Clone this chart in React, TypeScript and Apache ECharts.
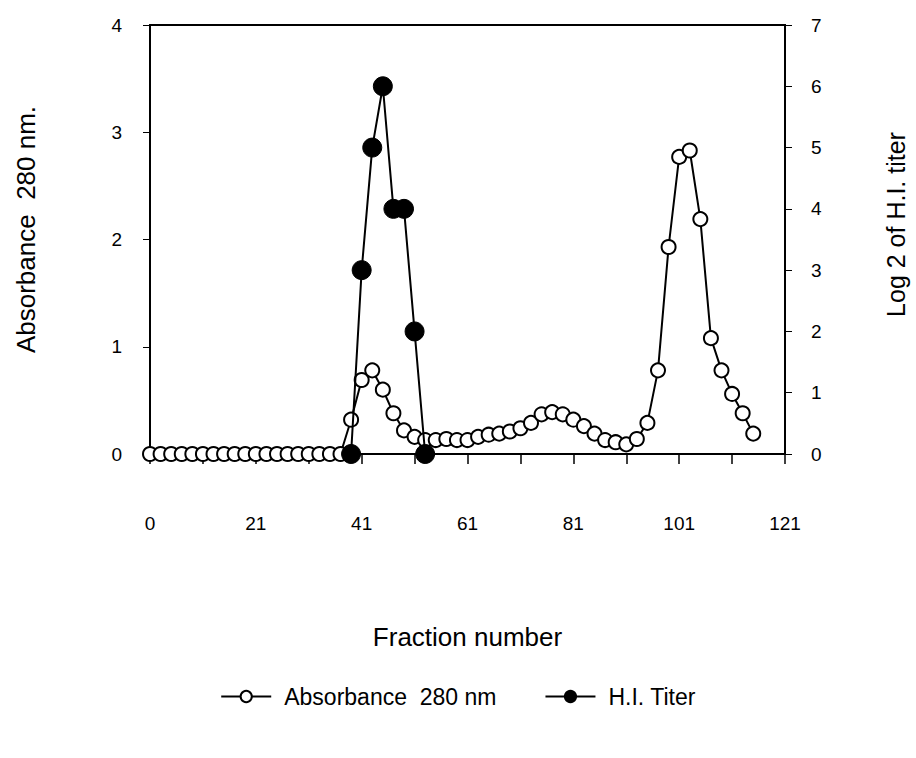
import React, { useEffect, useRef } from "react";
import * as echarts from "echarts";

const absFractions = [
  0, 2, 4, 6, 8, 10, 12, 14, 16, 18, 20, 22, 24, 26, 28, 30, 32, 34, 36,
  38, 40, 42, 44, 46, 48, 50, 52, 54, 56, 58, 60, 62, 64, 66, 68, 70, 72, 74, 76,
  78, 80, 82, 84, 86, 88, 90, 92, 94, 96, 98, 100, 102, 104, 106, 108, 110, 112, 114,
];
const absorbance = [
  0, 0, 0, 0, 0, 0, 0, 0, 0, 0, 0, 0, 0, 0, 0, 0, 0, 0, 0,
  0.32, 0.69, 0.78, 0.6, 0.38, 0.22, 0.16, 0.13, 0.13, 0.14, 0.13, 0.13, 0.16, 0.18, 0.19, 0.21, 0.24, 0.29, 0.37, 0.39,
  0.37, 0.32, 0.26, 0.19, 0.13, 0.11, 0.09, 0.14, 0.29, 0.78, 1.93, 2.77, 2.83, 2.19, 1.08, 0.78, 0.56, 0.38, 0.19,
];
const hiFractions = [38, 40, 42, 44, 46, 48, 50, 52];
const hiTiter = [0, 3, 5, 6, 4, 4, 2, 0];
const xTickLabels = ["0", "21", "41", "61", "81", "101", "121"];

const FONT = "'Liberation Sans', Arial, sans-serif";

export default function App() {
  const ref = useRef<HTMLDivElement>(null);
  useEffect(() => {
    if (!ref.current) return;
    const chart = echarts.init(ref.current, null, { renderer: "svg" });
    const absData = absFractions.map((x, i) => [x, absorbance[i]]);
    const hiData = hiFractions.map((x, i) => [x, hiTiter[i]]);
    chart.setOption({
      animation: false,
      backgroundColor: "#fff",
      textStyle: { fontFamily: FONT, color: "#000" },
      grid: {
        left: 150,
        right: 131,
        top: 25,
        bottom: 304,
        containLabel: false,
        outerBoundsMode: "none",
        show: true,
        borderColor: "#000",
        borderWidth: 2,
        backgroundColor: "transparent",
      },
      legend: {
        top: 680,
        left: "center",
        itemWidth: 50,
        itemHeight: 14,
        itemGap: 48,
        textStyle: { fontSize: 23, color: "#000", fontFamily: FONT, padding: [0, 0, 0, 8] },
        data: ["Absorbance  280 nm", "H.I. Titer"],
      },
      xAxis: {
        type: "value",
        min: 0,
        max: 120,
        interval: 10,
        name: "Fraction number",
        nameLocation: "middle",
        nameGap: 170,
        nameTextStyle: { fontSize: 26, color: "#000", fontFamily: FONT },
        axisLine: { show: true, lineStyle: { color: "#000", width: 2 } },
        axisTick: { show: true, inside: false, length: 10, lineStyle: { color: "#000", width: 1.5 } },
        axisLabel: {
          margin: 60,
          fontSize: 19,
          color: "#000",
          fontFamily: FONT,
          formatter: (v: number) => (v % 20 === 0 ? xTickLabels[v / 20] : ""),
        },
        splitLine: { show: false },
      },
      yAxis: [
        {
          type: "value",
          min: 0,
          max: 4,
          interval: 1,
          position: "left",
          name: "Absorbance  280 nm.",
          nameLocation: "middle",
          nameGap: 111,
          nameRotate: 90,
          nameTextStyle: { fontSize: 26, color: "#000", fontFamily: FONT, padding: [0, 0, 0, 20] },
          axisLine: { show: true, lineStyle: { color: "#000", width: 2 } },
          axisTick: { show: true, inside: false, length: 7, lineStyle: { color: "#000", width: 1 } },
          axisLabel: { margin: 28, fontSize: 19, color: "#000", fontFamily: FONT },
          splitLine: { show: false },
        },
        {
          type: "value",
          min: 0,
          max: 7,
          interval: 1,
          position: "right",
          name: "Log 2 of H.I. titer",
          nameLocation: "middle",
          nameGap: 98,
          nameRotate: 90,
          nameTextStyle: { fontSize: 25, color: "#000", fontFamily: FONT, padding: [0, 0, 0, 30] },
          axisLine: { show: true, lineStyle: { color: "#000", width: 2 } },
          axisTick: { show: true, inside: false, length: 7, lineStyle: { color: "#000", width: 1 } },
          axisLabel: { margin: 26, fontSize: 19, color: "#000", fontFamily: FONT },
          splitLine: { show: false },
        },
      ],
      series: [
        {
          name: "Absorbance  280 nm",
          type: "line",
          yAxisIndex: 0,
          data: absData,
          symbol: "circle",
          symbolSize: 14,
          showAllSymbol: true,
          itemStyle: { color: "#fff", borderColor: "#000", borderWidth: 2 },
          lineStyle: { color: "#000", width: 2 },
          z: 2,
        },
        {
          name: "H.I. Titer",
          type: "line",
          yAxisIndex: 1,
          data: hiData,
          symbol: "circle",
          symbolSize: 19,
          showAllSymbol: true,
          itemStyle: { color: "#000", borderColor: "#000", borderWidth: 1 },
          lineStyle: { color: "#000", width: 2 },
          z: 3,
        },
      ],
    });
    return () => chart.dispose();
  }, []);
  return (
    <div
      ref={ref}
      style={{ position: "fixed", left: 0, top: 0, width: 916, height: 758, background: "#fff" }}
    />
  );
}
